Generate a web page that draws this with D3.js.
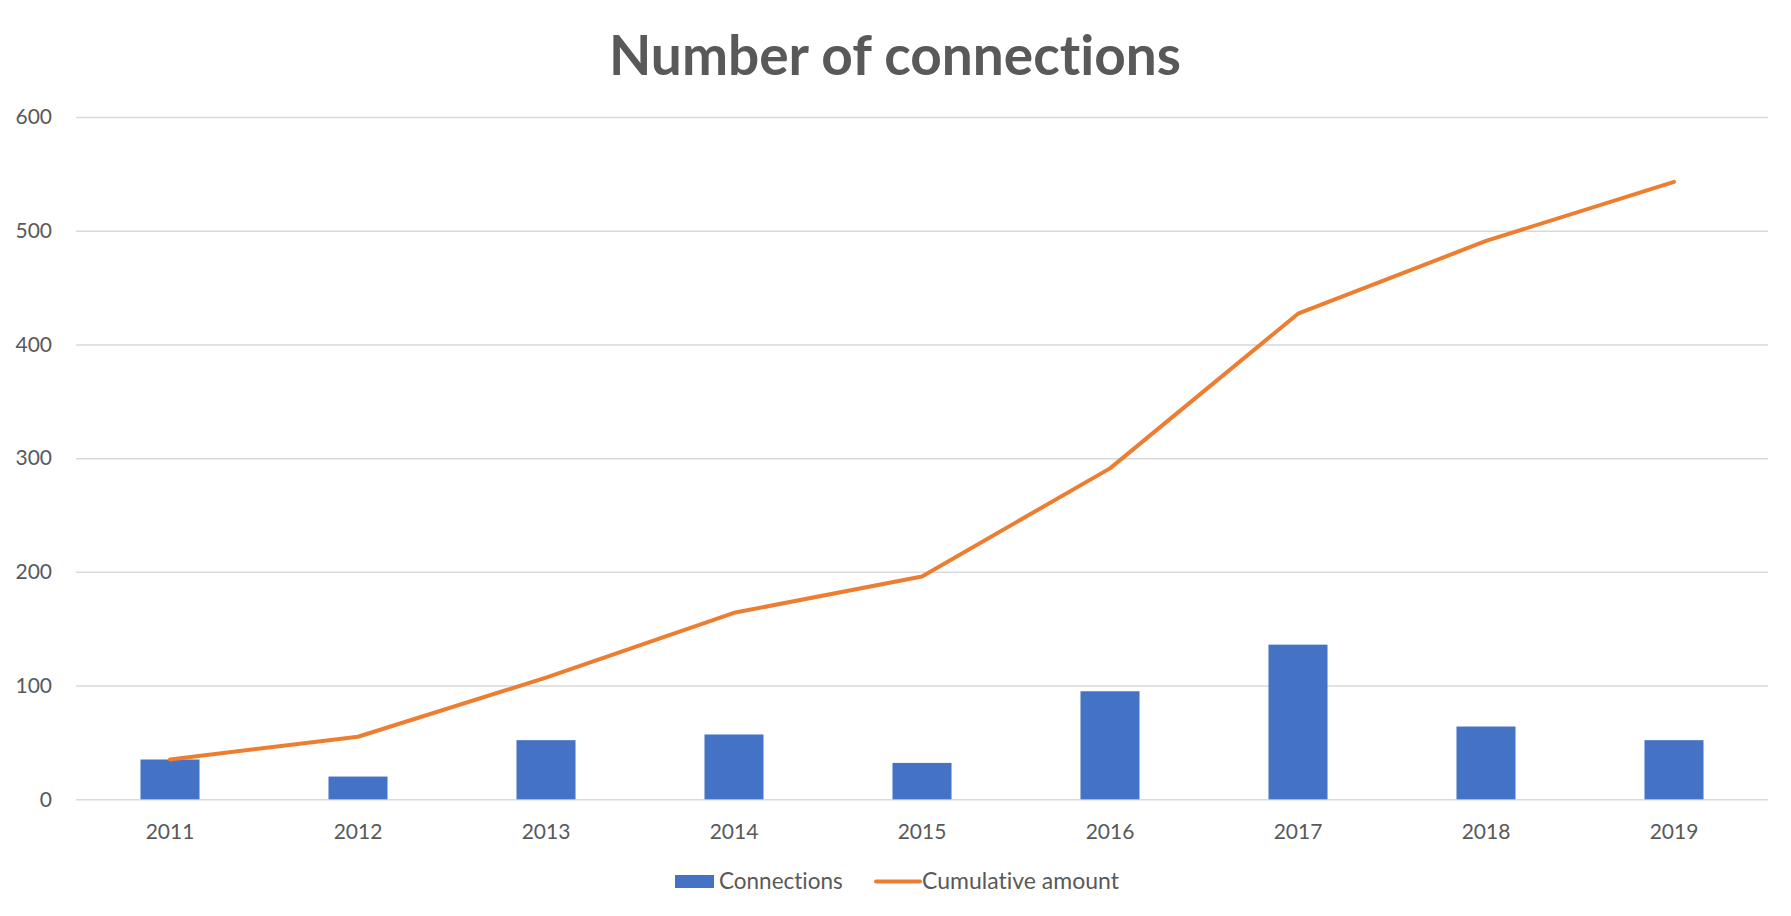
<!DOCTYPE html>
<html><head><meta charset="utf-8">
<script src="https://cdn.jsdelivr.net/npm/d3@7"></script>
<style>body{margin:0;background:#fff;} text{font-family:Lato,"Open Sans",sans-serif;font-variant-ligatures:none;font-feature-settings:"liga" 0,"clig" 0;}</style>
</head><body>
<svg id="chart" width="1791" height="916"></svg>
<script>
const years = ["2011","2012","2013","2014","2015","2016","2017","2018","2019"];
const connections = [35,20,52,57,32,95,136,64,52];
const cumulative = [35,55,107,164,196,291,427,491,543];
const yTicks = [0,100,200,300,400,500,600];
const title = "Number of connections";
const legendLabels = ["Connections","Cumulative amount"];

const svg = d3.select("#chart");
const m = {left:76, right:1768, top:117, bottom:799.3};
const textColor = "#595959";
const barColor = "#4472C4", lineColor = "#ED7D31", gridColor = "#d9d9d9";

const x = d3.scaleBand().domain(years).range([m.left, m.right]).paddingInner(0.686).paddingOuter(0.343);
const y = d3.scaleLinear().domain([0,600]).range([m.bottom, m.top]);

// title
svg.append("text").attr("x",895).attr("y",75).attr("text-anchor","middle")
  .attr("font-weight","bold").attr("font-size",55).attr("fill",textColor).text(title);

// grid
const yAxis = d3.axisLeft(y).tickValues(yTicks).tickSize(-(m.right-m.left)).tickPadding(24);
const gy = svg.append("g").attr("transform",`translate(${m.left},0)`).call(yAxis);
gy.select(".domain").remove();
gy.selectAll(".tick line").attr("stroke",gridColor).attr("stroke-width",1.5);
gy.selectAll(".tick text").attr("fill",textColor).attr("font-size",21).attr("font-family","Lato");

// x axis labels
const xAxis = d3.axisBottom(x).tickSize(0).tickPadding(25);
const gx = svg.append("g").attr("transform",`translate(0,${m.bottom})`).call(xAxis);
gx.select(".domain").remove();
gx.selectAll(".tick text").attr("fill",textColor).attr("font-size",21).attr("font-family","Lato");

// bars
svg.append("g").selectAll("rect").data(years).join("rect")
  .attr("x",d=>x(d)).attr("width",x.bandwidth())
  .attr("y",(d,i)=>y(connections[i])).attr("height",(d,i)=>y(0)-y(connections[i]))
  .attr("fill",barColor);

// line
const line = d3.line().x((d,i)=>x(years[i])+x.bandwidth()/2).y(d=>y(d));
svg.append("path").datum(cumulative).attr("d",line).attr("fill","none")
  .attr("stroke",lineColor).attr("stroke-width",4).attr("stroke-linecap","round").attr("stroke-linejoin","round");

// legend
const lg = svg.append("g");
lg.append("rect").attr("x",675).attr("y",875).attr("width",39).attr("height",13).attr("fill",barColor);
lg.append("text").attr("x",719).attr("y",889).attr("font-size",22.5).attr("fill",textColor).text(legendLabels[0]);
lg.append("line").attr("x1",876).attr("x2",920).attr("y1",881.5).attr("y2",881.5).attr("stroke",lineColor).attr("stroke-width",4).attr("stroke-linecap","round");
lg.append("text").attr("x",922).attr("y",889).attr("font-size",23).attr("fill",textColor).text(legendLabels[1]);
</script>
</body></html>
